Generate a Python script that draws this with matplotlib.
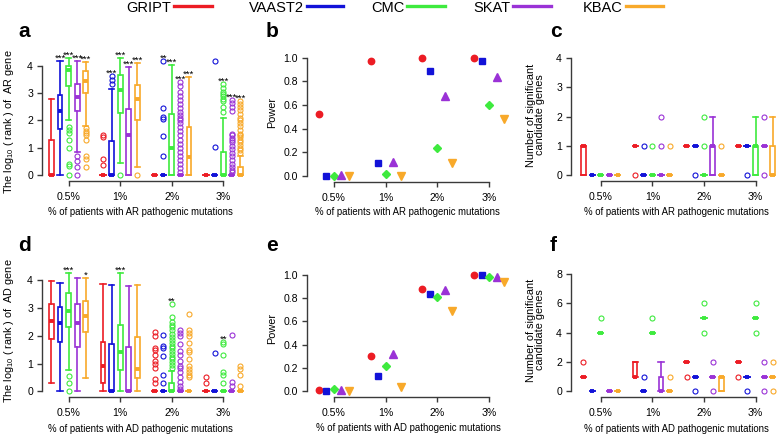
import matplotlib
matplotlib.use("Agg")
import matplotlib.pyplot as plt
from matplotlib.lines import Line2D

plt.rcParams["font.family"] = ["Liberation Sans", "DejaVu Sans"]
plt.rcParams["mathtext.fontset"] = "custom"
plt.rcParams["mathtext.rm"] = "Liberation Sans"

W, H = 778, 438  # figure size in pixels

# --- data ---
groups = ["0.5%", "1%", "2%", "3%"]
methods = ["GRIPT", "VAAST2", "CMC", "SKAT", "KBAC"]
colors = {"GRIPT": "#EC1C24", "VAAST2": "#1212D8", "CMC": "#3EEA3E",
          "SKAT": "#9A32D6", "KBAC": "#F8A92A"}
markers = {"GRIPT": "o", "VAAST2": "s", "CMC": "D", "SKAT": "^", "KBAC": "v"}

Z = (0, 0, 0, 0, 0)
ONE = (1, 1, 1, 1, 1)

# (whisker low, q1, median, q3, whisker high) per group
ar_rank = {
    "GRIPT": [(0, 0, 0, 1.28, 2.8), Z, Z, Z],
    "VAAST2": [(0, 1.7, 2.35, 2.95, 4.2), (0, 0, 0, 1.25, 3.15), Z, Z],
    "CMC": [(2.0, 3.25, 3.85, 4.0, 4.28), (0.45, 2.28, 3.1, 3.68, 4.28),
            (0, 0, 1.0, 2.25, 4.03), (0, 0, 0, 0.85, 2.1)],
    "SKAT": [(0.85, 2.35, 2.85, 3.35, 4.2), (0, 0, 1.45, 2.42, 3.95), Z, Z],
    "KBAC": [(1.8, 3.0, 3.45, 3.8, 4.15), (0.3, 2.0, 2.78, 3.3, 4.12),
             (0, 0, 0.65, 1.75, 3.6), (0, 0, 0, 0.3, 0.7)],
}
ar_rank_out = {
    "GRIPT": [[], [1.45, 1.38, 0.57, 0.37], [], []],
    "VAAST2": [[], [3.65, 3.5, 3.35], [4.2, 2.45, 2.12, 2.04, 1.43, 0.7], [4.2, 1.04]],
    "CMC": [[1.75, 1.65, 1.55, 1.3, 1.0, 0.4, 0.33, 0.0], [0.0], [],
            [3.33, 3.2, 3.05, 2.96, 2.88, 2.8, 2.7, 2.5, 2.32]],
    "SKAT": [[0.7, 0.5, 0.3, 0.0], [],
             [3.42, 3.25, 3.05, 2.9, 2.75, 2.6, 2.45, 2.3, 2.2, 2.1, 2.0, 1.9, 1.75,
              1.6, 1.45, 1.3, 1.15, 1.0, 0.85, 0.7, 0.55, 0.4, 0.25, 0.12],
             [2.75, 2.65, 2.5, 2.35, 1.52, 1.45, 1.35, 1.28, 1.2, 1.05, 0.95, 0.82,
              0.7, 0.55, 0.42, 0.3, 0.2, 0.1]],
    "KBAC": [[1.72, 1.62, 1.55, 1.45, 1.3, 0.7, 0.6, 0.3], [0.0], [],
             [2.72, 2.6, 2.5, 2.4, 2.25, 2.1, 2.0, 1.9, 1.8, 1.65, 1.5, 1.45, 1.38,
              1.28, 1.2, 1.1, 1.0, 0.9, 0.8]],
}
ar_stars = {"VAAST2": ["***", "***", "**", ""], "CMC": ["***"] * 4,
            "SKAT": ["***"] * 4, "KBAC": ["***"] * 4}

ad_rank = {
    "GRIPT": [(0.3, 1.88, 2.53, 3.15, 3.98), (0, 0.3, 0.9, 1.78, 3.87), Z, Z],
    "VAAST2": [(0, 1.78, 2.47, 3.02, 3.9), (0, 0, 0, 1.72, 3.83), Z, Z],
    "CMC": [(0.78, 2.33, 2.88, 3.55, 4.26), (0, 0.78, 1.4, 2.4, 4.28),
            (0, 0, 0, 0.3, 0.72), Z],
    "SKAT": [(0, 1.58, 2.47, 3.15, 4.1), (0, 0, 0, 1.58, 3.78), Z, Z],
    "KBAC": [(0.47, 2.12, 2.72, 3.26, 4.08), (0, 0.47, 0.8, 1.95, 3.83), Z, Z],
}
ad_rank_out = {
    "GRIPT": [[], [], [2.15, 1.98, 1.55, 1.5, 1.3, 1.1, 0.97, 0.85, 0.46, 0.3], [0.5, 0.3]],
    "VAAST2": [[], [], [2.03, 1.65, 1.56, 1.26, 0.6, 0.3], [1.37]],
    "CMC": [[0.54, 0.3, 0.0], [],
            [3.15, 2.68, 2.5, 2.4, 2.3, 2.2, 2.05, 1.95, 1.85, 1.75, 1.65, 1.55,
             1.45, 1.35, 1.25, 1.15, 1.05, 0.95, 0.85],
            [1.78, 1.7, 1.32, 0.68, 0.6, 0.3]],
    "SKAT": [[], [], [2.22, 2.1, 2.0, 1.7, 1.45, 1.3, 1.1, 0.9, 0.85, 0.7, 0.5, 0.35, 0.2, 0.1],
             [2.02, 0.33, 0.2]],
    "KBAC": [[], [], [2.8, 2.2, 2.1, 2.0, 1.75, 1.5, 1.42, 1.15, 0.9, 0.8, 0.7, 0.6, 0.5],
             [0.9, 0.8, 0.6, 0.2]],
}
ad_stars = {"CMC": ["***", "***", "**", "**"], "KBAC": ["*", "", "", ""]}

ar_power = {"GRIPT": [0.52, 0.97, 1.0, 1.0], "VAAST2": [0.0, 0.105, 0.885, 0.972],
            "CMC": [0.0, 0.014, 0.234, 0.60], "SKAT": [0.005, 0.12, 0.68, 0.84],
            "KBAC": [0.0, 0.0, 0.11, 0.48]}
ad_power = {"GRIPT": [0.01, 0.30, 0.875, 0.995], "VAAST2": [0.0, 0.13, 0.83, 0.995],
            "CMC": [0.02, 0.22, 0.81, 0.98], "SKAT": [0.01, 0.32, 0.87, 0.98],
            "KBAC": [0.0, 0.04, 0.69, 0.94]}

ar_count = {
    "GRIPT": [(0, 0, 1, 1, 1), ONE, ONE, ONE],
    "VAAST2": [Z, Z, ONE, ONE],
    "CMC": [Z, Z, Z, (0, 0, 1, 1, 2)],
    "SKAT": [Z, Z, (0, 0, 1, 1, 2), ONE],
    "KBAC": [Z, Z, Z, (0, 0, 0, 1, 2)],
}
ar_count_out = {
    "GRIPT": [[], [0], [], []],
    "VAAST2": [[], [1], [0], [0]],
    "CMC": [[], [1], [1, 2], []],
    "SKAT": [[], [1, 2], [], [0, 2]],
    "KBAC": [[], [1], [1], []],
}
ad_count = {
    "GRIPT": [ONE, (1, 1, 1, 2, 2), (2, 2, 2, 2, 2), (2, 2, 2, 2, 2)],
    "VAAST2": [Z, Z, ONE, ONE],
    "CMC": [(4, 4, 4, 4, 4), (4, 4, 4, 4, 4), (5, 5, 5, 5, 5), (5, 5, 5, 5, 5)],
    "SKAT": [Z, (0, 0, 0, 1, 2), ONE, ONE],
    "KBAC": [Z, Z, (0, 0, 1, 1, 1), ONE],
}
ad_count_out = {
    "GRIPT": [[2], [], [1], [1]],
    "VAAST2": [[], [1], [0], [0]],
    "CMC": [[5], [5], [6, 4], [6, 4]],
    "SKAT": [[], [], [2, 0], [2, 0]],
    "KBAC": [[], [1], [], [2, 0]],
}

AXIS_GRAY = "#3a3a3a"


def px_axes(left, top, right, bottom):
    return fig.add_axes([left / W, 1 - bottom / H, (right - left) / W, (bottom - top) / H])


def style_axes(ax, xticks, xlabels, yticks, ylabels, xlabel, ylabel, xlab_pos, ylab_pos):
    ax.spines[["top", "right"]].set_visible(False)
    for s in ("left", "bottom"):
        ax.spines[s].set_color(AXIS_GRAY)
        ax.spines[s].set_linewidth(1.0)
    ax.spines["left"].set_bounds(yticks[0], yticks[-1])
    ax.spines["bottom"].set_bounds(xticks[0], xticks[-1])
    ax.set_xticks(xticks, xlabels)
    ax.set_yticks(yticks, ylabels)
    ax.tick_params(length=3.5, width=1.0, color=AXIS_GRAY, labelsize=7.6, pad=3)
    ax.tick_params(axis="x", pad=4.5)
    ax.set_xlabel(xlabel, fontsize=6.9)
    ax.set_ylabel(ylabel, fontsize=7.8, linespacing=0.9)
    # label coords given in axes fractions; the y label is anchored at its right edge
    ax.xaxis.set_label_coords(*xlab_pos)
    ax.yaxis.set_label_coords(*ylab_pos)
    ax.patch.set_visible(False)


def draw_boxes(ax, five_nums, outliers, stars=None):
    for m, name in enumerate(methods):
        pos = [6 * g + m + 1 for g in range(4)]
        c = colors[name]
        stats = []
        for f, o in zip(five_nums[name], outliers[name]):
            lo, q1, med, q3, hi = f
            stats.append(dict(whislo=lo, q1=q1, med=med, q3=q3, whishi=hi, fliers=o))
        ax.bxp(stats, positions=pos, widths=0.55, capwidths=0.6, patch_artist=True,
               boxprops=dict(facecolor="white", edgecolor=c, linewidth=1.2),
               whiskerprops=dict(color=c, linewidth=1.2),
               capprops=dict(color=c, linewidth=1.2),
               medianprops=dict(color=c, linewidth=2.8, solid_capstyle="butt"),
               flierprops=dict(marker="o", markerfacecolor="none", markeredgecolor=c,
                               markersize=3.6, markeredgewidth=0.8),
               manage_ticks=False)
        if stars and name in stars:
            for g, s in enumerate(stars[name]):
                if s:
                    top = max([five_nums[name][g][4]] + outliers[name][g])
                    ax.text(pos[g], top + 0.1, s, ha="center", va="center",
                            fontsize=6.8, clip_on=False)


def draw_power(ax, power):
    for m, name in enumerate(methods):
        xs = [g + 1 + (m - 2) * 0.145 for g in range(4)]
        ms = {"o": 4.6, "s": 4.2, "D": 4.0, "^": 5.6, "v": 5.6}[markers[name]]
        ax.plot(xs, power[name], linestyle="none", marker=markers[name], ms=ms,
                color=colors[name], mec=colors[name], clip_on=False)


fig = plt.figure(figsize=(W / 100, H / 100), dpi=100)

box_ticks = [3, 9, 15, 21]
rank_lab_a = r"The log$_\mathregular{10}$ ( rank ) of  AR gene"
rank_lab_d = r"The log$_\mathregular{10}$ ( rank ) of  AD gene"
ar_x = "% of patients with AR pathogenic mutations"
ad_x = "% of patients with AD pathogenic mutations"
count_lab = "Number of significant\ncandidate genes"
pw_ticks = [0, 0.2, 0.4, 0.6, 0.8, 1.0]
pw_labels = [f"{v:.1f}" for v in pw_ticks]

# a
ax = px_axes(42, 53.7, 252, 181)
draw_boxes(ax, ar_rank, ar_rank_out, ar_stars)
ax.set_xlim(-0.1, 24.35)
ax.set_ylim(-0.22, 4.45)
style_axes(ax, box_ticks, groups, [0, 1, 2, 3, 4], ["0", "1", "2", "3", "4"],
           ar_x, rank_lab_a, ((140 - 42) / 210, (181 - 207) / 127.3),
           ((16 - 42) / 210, (181 - 121.5) / 127.3))

# b
ax = px_axes(307, 53, 516, 181.7)
draw_power(ax, ar_power)
ax.set_xlim(0.48, 4.52)
ax.set_ylim(-0.05, 1.04)
style_axes(ax, [1, 2, 3, 4], groups, pw_ticks, pw_labels, ar_x, "Power",
           ((407.5 - 307) / 209, (181.7 - 207) / 128.7),
           ((277 - 307) / 209, (181.7 - 112) / 128.7))

# c
ax = px_axes(571, 52.4, 778, 181)
draw_boxes(ax, ar_count, ar_count_out)
ax.set_xlim(-0.45, 23.6)
ax.set_ylim(-0.205, 4.2)
style_axes(ax, box_ticks, groups, [0, 1, 2, 3, 4], ["0", "1", "2", "3", "4"],
           ar_x, count_lab, ((676 - 571) / 207, (181 - 207) / 128.6),
           ((545 - 571) / 207, (181 - 115) / 128.6))

# d
ax = px_axes(42, 267.8, 252, 397)
draw_boxes(ax, ad_rank, ad_rank_out, ad_stars)
ax.set_xlim(-0.1, 24.35)
ax.set_ylim(-0.205, 4.45)
style_axes(ax, box_ticks, groups, [0, 1, 2, 3, 4], ["0", "1", "2", "3", "4"],
           ad_x, rank_lab_d, ((140 - 42) / 210, (397 - 424) / 129.2),
           ((16 - 42) / 210, (397 - 330.5) / 129.2))

# e
ax = px_axes(307, 269.9, 516, 397)
draw_power(ax, ad_power)
ax.set_xlim(0.48, 4.52)
ax.set_ylim(-0.05, 1.04)
style_axes(ax, [1, 2, 3, 4], groups, pw_ticks, pw_labels, ad_x, "Power",
           ((408 - 307) / 209, (397 - 423) / 127.1),
           ((277 - 307) / 209, (397 - 328) / 127.1))

# f
ax = px_axes(571, 268.1, 778, 397)
draw_boxes(ax, ad_count, ad_count_out)
ax.set_xlim(-0.45, 23.6)
ax.set_ylim(-0.39, 8.4)
style_axes(ax, box_ticks, groups, [0, 2, 4, 6, 8], ["0", "2", "4", "6", "8"],
           ad_x, count_lab, ((676 - 571) / 207, (397 - 424) / 128.9),
           ((545 - 571) / 207, (397 - 330) / 128.9))

# panel letters
for letter, (x, y) in zip("abcdef", [(18, 37), (266, 37), (550, 37),
                                     (18, 251), (266, 251), (550, 251)]):
    fig.text(x / W, 1 - y / H, letter, fontsize=15, fontweight="bold", va="baseline")

# legend across the top: label, then a short coloured line
leg_lines = [(174, 212), (307, 343), (407, 445), (513, 551), (626, 663)]
for name, (x0, x1) in zip(methods, leg_lines):
    fig.text((x0 - 3) / W, 1 - 11.7 / H, name, ha="right", va="baseline", fontsize=10.5)
    fig.add_artist(Line2D([x0 / W, x1 / W], [1 - 6.3 / H, 1 - 6.3 / H],
                          color=colors[name], lw=2.4, transform=fig.transFigure))

fig.savefig("out.png", dpi=100)
